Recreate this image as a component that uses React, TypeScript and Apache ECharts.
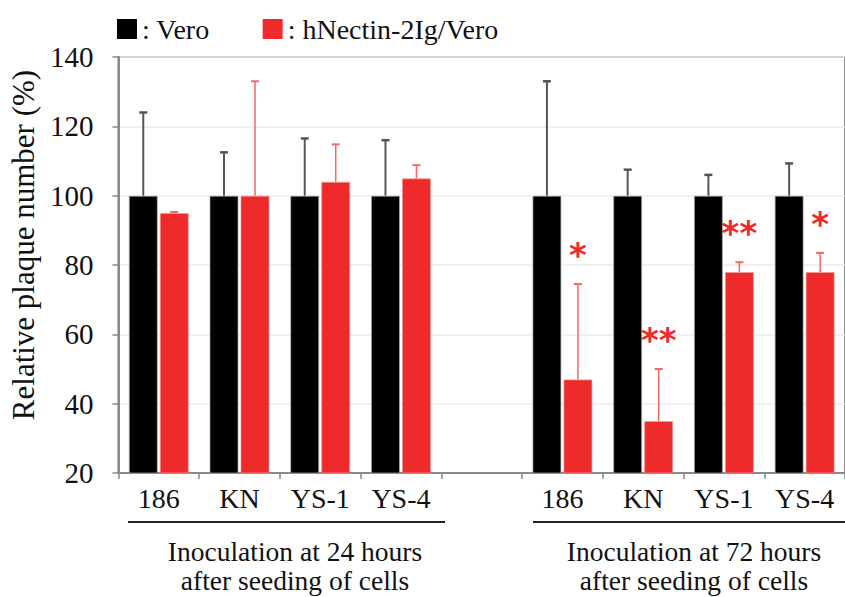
import React, { useEffect, useRef } from "react";
import * as echarts from "echarts";

const categories = ["186", "KN", "YS-1", "YS-4", "", "186", "KN", "YS-1", "YS-4"];
const veroValues = [100, 100, 100, 100, null, 100, 100, 100, 100];
const veroErrTop = [124, 112.5, 116.5, 116, null, 133, 107.5, 106, 109.3];
const nectinValues = [95, 100, 104, 105, null, 47, 35, 78, 78];
const nectinErrTop = [95.3, 133, 114.8, 108.8, null, 74.5, 50, 80.8, 83.5];
const significance = ["", "", "", "", "", "*", "**", "**", "*"];
const yTicks = { min: 20, max: 140, interval: 20 };
const groupLabels = [
  "Inoculation at 24 hours\nafter seeding of cells",
  "Inoculation at 72 hours\nafter seeding of cells",
];

const SERIF = "'Liberation Serif', 'Times New Roman', serif";
const RED = "#ee2a2a";
const BAR_W = 29;
const BAR_GAP = 2;

function makeErrorSeries(name: string, values: (number | null)[], tops: (number | null)[], side: number, lineColor: string, lineWidth: number, marks?: string[]) {
  const data = values.map((v, i) => [i, v, tops[i], marks ? marks[i] : ""]);
  return {
    type: "custom",
    name: name + " err",
    silent: true,
    z: 5,
    data,
    renderItem: (params: any, api: any) => {
      const idx = api.value(0);
      const v = api.value(1);
      const top = api.value(2);
      if (v == null || top == null || isNaN(v) || isNaN(top)) return null;
      const mark = marks ? marks[params.dataIndex] : "";
      const base = api.coord([idx, v]);
      const capPt = api.coord([idx, top]);
      const x = base[0] + side * (BAR_W / 2 + BAR_GAP / 2);
      const capHalf = 4;
      const children: any[] = [
        { type: "line", shape: { x1: x, y1: base[1], x2: x, y2: capPt[1] }, style: { stroke: lineColor, lineWidth } },
        { type: "line", shape: { x1: x - capHalf, y1: capPt[1], x2: x + capHalf, y2: capPt[1] }, style: { stroke: lineColor, lineWidth: lineWidth + 0.5 } },
      ];
      if (mark) {
        children.push({
          type: "text",
          style: {
            x,
            y: capPt[1] - 12,
            text: mark,
            fill: RED,
            font: "bold 34px 'DejaVu Sans', sans-serif",
            align: "center",
            verticalAlign: "bottom",
          },
        });
      }
      return { type: "group", children };
    },
  };
}

export default function App() {
  const ref = useRef<HTMLDivElement>(null);
  useEffect(() => {
    if (!ref.current) return;
    const chart = echarts.init(ref.current, null, { renderer: "svg" });
    chart.setOption({
      animation: false,
      backgroundColor: "#ffffff",
      legend: {
        left: 112,
        top: 10,
        icon: "rect",
        itemWidth: 20,
        itemHeight: 20,
        itemGap: 53,
        data: ["Vero", "hNectin-2Ig/Vero"],
        formatter: (n: string) => ": " + n,
        textStyle: { fontFamily: SERIF, fontSize: 28, color: "#111" },
        itemStyle: { borderWidth: 0 },
      },
      grid: {
        left: 117,
        top: 57,
        right: -11,
        bottom: 124,
        show: true,
        borderColor: "#8a8a8a",
        borderWidth: 2,
        backgroundColor: "transparent",
      },
      xAxis: {
        type: "category",
        data: categories,
        axisLine: { lineStyle: { color: "#8a8a8a", width: 2 } },
        axisTick: { show: true, interval: 0, length: 6, lineStyle: { color: "#8a8a8a", width: 1.5 } },
        axisLabel: { interval: 0, fontFamily: SERIF, fontSize: 28, color: "#111", margin: 11 },
        splitLine: { show: false },
      },
      yAxis: {
        type: "value",
        min: yTicks.min,
        max: yTicks.max,
        interval: yTicks.interval,
        name: "Relative plaque number (%)",
        nameLocation: "middle",
        nameGap: 77,
        nameTextStyle: { fontFamily: SERIF, fontSize: 31, color: "#111", padding: [0, 0, 0, 40] },
        axisLine: { show: true, lineStyle: { color: "#8a8a8a", width: 2 } },
        axisTick: { show: true, length: 6, lineStyle: { color: "#8a8a8a", width: 1.5 } },
        axisLabel: { fontFamily: SERIF, fontSize: 29, color: "#111", margin: 25 },
        splitLine: { show: true, lineStyle: { color: "#ebebeb", width: 1.5 } },
      },
      series: [
        {
          type: "bar",
          name: "Vero",
          data: veroValues,
          barWidth: BAR_W,
          barGap: ((BAR_GAP / BAR_W) * 100).toFixed(1) + "%",
          itemStyle: { color: "#000000", borderColor: "rgba(170,170,170,0.7)", borderWidth: 1 },
        },
        {
          type: "bar",
          name: "hNectin-2Ig/Vero",
          data: nectinValues,
          barWidth: BAR_W,
          itemStyle: { color: RED, borderColor: "rgba(240,150,150,0.7)", borderWidth: 1 },
        },
        makeErrorSeries("Vero", veroValues, veroErrTop, -1, "#555555", 2),
        makeErrorSeries("hNectin-2Ig/Vero", nectinValues, nectinErrTop, 1, "#f26a64", 1.5, significance),
      ],
      graphic: [
        { type: "line", shape: { x1: 128, y1: 522, x2: 445, y2: 522 }, style: { stroke: "#222", lineWidth: 2 } },
        { type: "line", shape: { x1: 533, y1: 522, x2: 845, y2: 522 }, style: { stroke: "#222", lineWidth: 2 } },
        {
          type: "text",
          x: 295,
          y: 566,
          style: { text: groupLabels[0], font: "27.5px " + SERIF, fill: "#111", align: "center", verticalAlign: "middle", lineHeight: 29 },
        },
        {
          type: "text",
          x: 694,
          y: 566,
          style: { text: groupLabels[1], font: "27.5px " + SERIF, fill: "#111", align: "center", verticalAlign: "middle", lineHeight: 29 },
        },
      ],
    });
    return () => chart.dispose();
  }, []);
  return <div ref={ref} style={{ position: "fixed", left: 0, top: 0, width: 845, height: 597 }} />;
}
